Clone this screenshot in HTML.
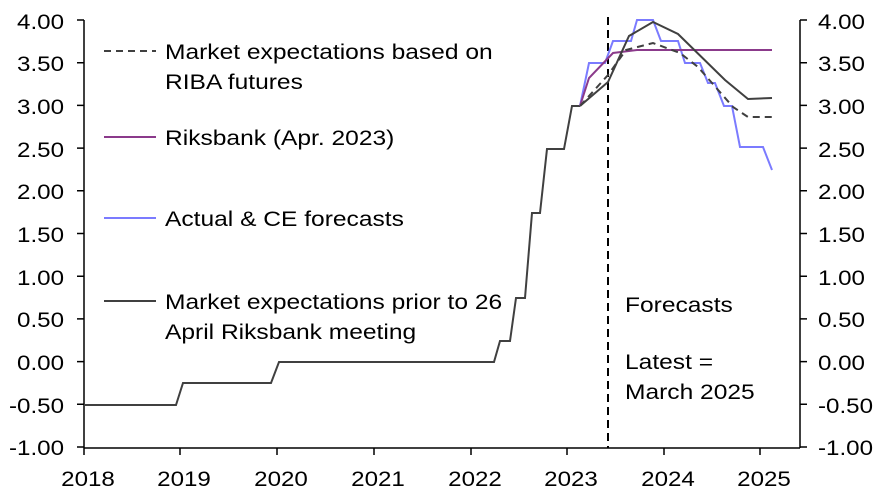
<!DOCTYPE html>
<html><head><style>body{margin:0;background:#fff}</style></head><body>
<svg width="886" height="495" xmlns="http://www.w3.org/2000/svg" font-family="Liberation Sans, sans-serif" font-size="21" fill="#000">
<g stroke="#000" stroke-width="1.5">
<line x1="84" y1="20" x2="84" y2="448"/>
<line x1="800" y1="20" x2="800" y2="448"/>
<line x1="84" y1="448" x2="800" y2="448"/>
</g>
<g stroke="#000" stroke-width="1.5">
<path d="M77 20H84M77 62.7H84M77 105.4H84M77 148.1H84M77 190.8H84M77 233.5H84M77 276.2H84M77 318.9H84M77 361.6H84M77 404.3H84M77 447H84"/>
<path d="M800 20H807M800 62.7H807M800 105.4H807M800 148.1H807M800 190.8H807M800 233.5H807M800 276.2H807M800 318.9H807M800 361.6H807M800 404.3H807M800 447H807"/>
<path d="M84 448V455M180 448V455M277 448V455M374 448V455M471 448V455M567 448V455M664 448V455M760 448V455"/>
</g>
<g transform="translate(64,0) scale(1.15,1)" text-anchor="end">
<text x="0" y="29">4.00</text><text x="0" y="71">3.50</text><text x="0" y="114">3.00</text><text x="0" y="157">2.50</text><text x="0" y="199">2.00</text><text x="0" y="242">1.50</text><text x="0" y="285">1.00</text><text x="0" y="327">0.50</text><text x="0" y="370">0.00</text><text x="0" y="413">-0.50</text><text x="0" y="455">-1.00</text>
</g>
<g transform="translate(818,0) scale(1.15,1)">
<text x="0" y="29">4.00</text><text x="0" y="71">3.50</text><text x="0" y="114">3.00</text><text x="0" y="157">2.50</text><text x="0" y="199">2.00</text><text x="0" y="242">1.50</text><text x="0" y="285">1.00</text><text x="0" y="327">0.50</text><text x="0" y="370">0.00</text><text x="0" y="413">-0.50</text><text x="0" y="455">-1.00</text>
</g>
<g text-anchor="middle">
<g transform="translate(88,486) scale(1.15,1)"><text>2018</text></g>
<g transform="translate(184,486) scale(1.15,1)"><text>2019</text></g>
<g transform="translate(281,486) scale(1.15,1)"><text>2020</text></g>
<g transform="translate(378,486) scale(1.15,1)"><text>2021</text></g>
<g transform="translate(475,486) scale(1.15,1)"><text>2022</text></g>
<g transform="translate(571,486) scale(1.15,1)"><text>2023</text></g>
<g transform="translate(668,486) scale(1.15,1)"><text>2024</text></g>
<g transform="translate(764,486) scale(1.15,1)"><text>2025</text></g>
</g>
<line x1="608" y1="17" x2="608" y2="448" stroke="#000" stroke-width="2" stroke-dasharray="8,5"/>
<g fill="none" stroke-width="2">
<path d="M84 405H176L183 383H271L279 362H494L500 341H510L516 298H525L532 213H540L547 149H564L572 106H580" stroke="#404040"/>
<path d="M580 106L589 63H605L613 41H631L637 20H653L661 41H678L685 63H700L708 83H715L724 106H732L740 147H763L772 170" stroke="#7b7bff"/>
<path d="M580 106L589 78L613 53L637 50H772" stroke="#8b3a8b"/>
<path d="M580 106L608 82L629 36L653 22L678 34L725 80L748 99L772 98" stroke="#404040"/>
<path d="M580 106L608 75L626 50L653 43L680 53L698 67L733 107L748 117H772" stroke="#404040" stroke-dasharray="7,5"/>
<line x1="104" y1="51" x2="156" y2="51" stroke="#404040" stroke-dasharray="7,5"/>
<line x1="104" y1="137" x2="156" y2="137" stroke="#8b3a8b"/>
<line x1="104" y1="218" x2="156" y2="218" stroke="#7b7bff"/>
<line x1="104" y1="301" x2="156" y2="301" stroke="#404040"/>
</g>
<g transform="translate(165,0) scale(1.17,1)">
<text x="0" y="59">Market expectations based on</text>
<text x="0" y="89">RIBA futures</text>
<text x="0" y="145">Riksbank (Apr. 2023)</text>
<text x="0" y="226">Actual &amp; CE forecasts</text>
<text x="0" y="309">Market expectations prior to 26</text>
<text x="0" y="339">April Riksbank meeting</text>
</g>
<g transform="translate(625,0) scale(1.17,1)">
<text x="0" y="312">Forecasts</text>
<text x="0" y="369">Latest =</text>
<text x="0" y="399">March 2025</text>
</g>
</svg>
</body></html>
